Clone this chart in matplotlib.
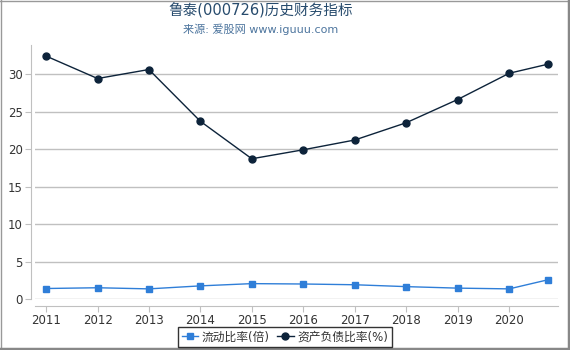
import matplotlib
matplotlib.use("Agg")
import numpy as np
import pandas as pd
from matplotlib import pyplot as plt
from matplotlib.lines import Line2D

plt.rcParams["font.family"] = ["DejaVu Sans", "Noto Sans CJK SC"]

# data
dates = ["2011-12-31", "2012-12-31", "2013-12-31", "2014-12-31", "2015-12-31",
         "2016-12-31", "2017-12-31", "2018-12-31", "2019-12-31", "2020-12-31",
         "2021-09-30"]
tick_labels = ["2011", "2012", "2013", "2014", "2015", "2016", "2017",
               "2018", "2019", "2020"]
current_ratio = [1.4, 1.5, 1.35, 1.75, 2.05, 2.0, 1.9, 1.65, 1.45, 1.35, 2.55]
debt_ratio = [32.4, 29.4, 30.6, 23.7, 18.7, 19.9, 21.2, 23.5, 26.6, 30.1, 31.3]

title = "鲁泰(000726)历史财务指标"
subtitle = "来源: 爱股网 www.iguuu.com"
names = ["流动比率(倍)", "资产负债比率(%)"]

# positions on a year axis (year-end dates)
d = pd.to_datetime(dates)
xpos = np.array([t.year - 2011 + (t.dayofyear - 365) / 365.0 for t in d])

fig = plt.figure(figsize=(5.7, 3.5), dpi=100)
ax = fig.add_axes([35 / 570, 51 / 350, 523 / 570, 254 / 350])

blue = "#2f7ed8"
dark = "#0d233a"
ax.plot(xpos, current_ratio, color=blue, lw=1, marker="s", ms=5,
        mec=blue, mfc=blue, zorder=3)
ax.plot(xpos, debt_ratio, color=dark, lw=1, marker="o", ms=5,
        mec=dark, mfc=dark, zorder=3)

ax.set_xlim(-11 / 51.5, 9 + 49 / 51.5)
ax.set_ylim(0, 33.87)
ax.set_xticks(xpos[:len(tick_labels)])
ax.set_xticklabels(tick_labels)
ax.set_yticks([0, 5, 10, 15, 20, 25, 30])
ax.set_yticklabels(["0", "5", "10", "15", "20", "25", "30"])
ax.tick_params(axis="x", length=4, color="#c0c0c0", labelsize=8.5,
               labelcolor="#333333", pad=2)
ax.tick_params(axis="y", length=4, color="#c0c0c0", labelsize=8.5,
               labelcolor="#333333", pad=2)

ax.grid(axis="y", color="#c0c0c0", lw=1)
ax.yaxis.get_gridlines()[0].set_visible(False)
ax.set_axisbelow(True)

for s in ["top", "right"]:
    ax.spines[s].set_visible(False)
ax.spines["left"].set_position(("outward", 3))
ax.spines["bottom"].set_position(("outward", 5))
ax.spines["left"].set_color("#c0c0c0")
ax.spines["bottom"].set_color("#c0c0c0")

fig.text(261 / 570, 1 - 11 / 350, title, ha="center", va="center",
         fontsize=10.5, color="#274b6d")
fig.text(261 / 570, 1 - 29 / 350, subtitle, ha="center", va="center",
         fontsize=8, color="#4d759e")

handles = [Line2D([], [], color=blue, lw=1, marker="s", ms=5),
           Line2D([], [], color=dark, lw=1, marker="o", ms=5)]
leg = fig.legend(handles, names, loc="center", bbox_to_anchor=(285 / 570, 13 / 350),
                 ncol=2, fontsize=8.5, frameon=True, fancybox=False,
                 handlelength=1.4, handletextpad=0.3, columnspacing=0.6,
                 borderpad=0.3)
leg.get_frame().set_edgecolor("black")
leg.get_frame().set_linewidth(1)
for t in leg.get_texts():
    t.set_color("#333333")

# outer frame
fig.add_artist(Line2D([0.5 / 570, 0.5 / 570], [0, 1], color="#999999", lw=1))
fig.add_artist(Line2D([0, 1], [1 - 0.5 / 350, 1 - 0.5 / 350], color="#999999", lw=1))
fig.add_artist(Line2D([568.5 / 570, 568.5 / 570], [0, 1], color="#888888", lw=2.5))
fig.add_artist(Line2D([0, 1], [1.5 / 350, 1.5 / 350], color="#888888", lw=2.5))

fig.savefig("out.png", dpi=100)
